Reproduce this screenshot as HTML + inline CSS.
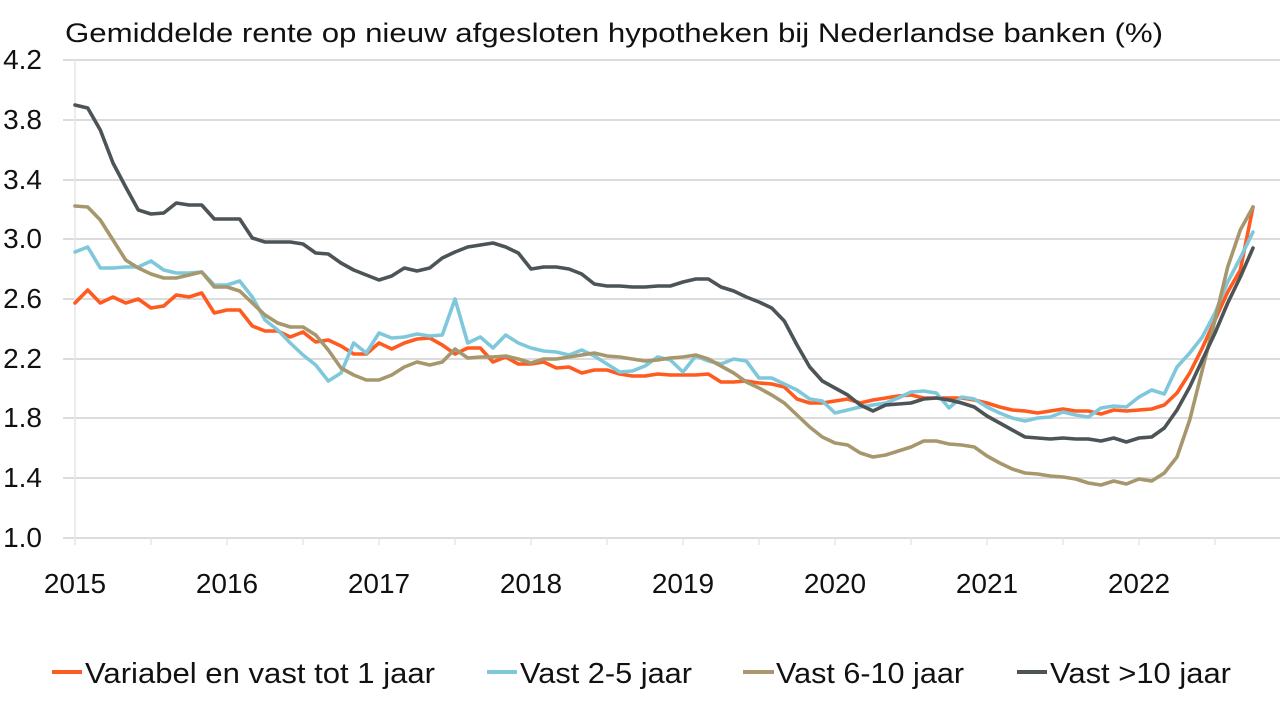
<!DOCTYPE html>
<html>
<head>
<meta charset="utf-8">
<style>
  html,body{margin:0;padding:0;background:#fff;}
  svg{display:block;}
  text{font-family:"Liberation Sans","DejaVu Sans",sans-serif;fill:#111;}
</style>
</head>
<body>
<svg width="1280" height="704" viewBox="0 0 1280 704" xmlns="http://www.w3.org/2000/svg">
  <rect x="0" y="0" width="1280" height="704" fill="#fff"/>
  <!-- Title -->
  <text x="65" y="42" font-size="27" textLength="1098" lengthAdjust="spacingAndGlyphs">Gemiddelde rente op nieuw afgesloten hypotheken bij Nederlandse banken (%)</text>

  <!-- gridlines -->
  <g stroke="#dcdcdc" stroke-width="2">
    <line x1="63" y1="60" x2="1280" y2="60"/>
    <line x1="63" y1="120" x2="1280" y2="120"/>
    <line x1="63" y1="180" x2="1280" y2="180"/>
    <line x1="63" y1="239" x2="1280" y2="239"/>
    <line x1="63" y1="299" x2="1280" y2="299"/>
    <line x1="63" y1="359" x2="1280" y2="359"/>
    <line x1="63" y1="418" x2="1280" y2="418"/>
    <line x1="63" y1="478" x2="1280" y2="478"/>
    <line x1="63" y1="538" x2="1280" y2="538"/>
  </g>
  <g stroke="#e6e6e6" stroke-width="1.5">
    <line x1="75" y1="60" x2="75" y2="545"/>
    <line x1="151" y1="538" x2="151" y2="545"/>
    <line x1="227" y1="538" x2="227" y2="545"/>
    <line x1="303" y1="538" x2="303" y2="545"/>
    <line x1="379" y1="538" x2="379" y2="545"/>
    <line x1="455" y1="538" x2="455" y2="545"/>
    <line x1="531" y1="538" x2="531" y2="545"/>
    <line x1="607" y1="538" x2="607" y2="545"/>
    <line x1="683" y1="538" x2="683" y2="545"/>
    <line x1="759" y1="538" x2="759" y2="545"/>
    <line x1="835" y1="538" x2="835" y2="545"/>
    <line x1="911" y1="538" x2="911" y2="545"/>
    <line x1="987" y1="538" x2="987" y2="545"/>
    <line x1="1063" y1="538" x2="1063" y2="545"/>
    <line x1="1139" y1="538" x2="1139" y2="545"/>
    <line x1="1215" y1="538" x2="1215" y2="545"/>
  </g>

  <!-- y labels -->
  <g font-size="28" text-anchor="end">
    <text x="42" y="69">4.2</text>
    <text x="42" y="129">3.8</text>
    <text x="42" y="189">3.4</text>
    <text x="42" y="248">3.0</text>
    <text x="42" y="308">2.6</text>
    <text x="42" y="368">2.2</text>
    <text x="42" y="427">1.8</text>
    <text x="42" y="487">1.4</text>
    <text x="42" y="547">1.0</text>
  </g>

  <!-- x labels -->
  <g font-size="28" text-anchor="middle">
    <text x="75" y="593">2015</text>
    <text x="227" y="593">2016</text>
    <text x="379" y="593">2017</text>
    <text x="531" y="593">2018</text>
    <text x="683" y="593">2019</text>
    <text x="835" y="593">2020</text>
    <text x="987" y="593">2021</text>
    <text x="1139" y="593">2022</text>
  </g>

  <!-- series -->
  <g fill="none" stroke-width="3.6" stroke-linejoin="round" stroke-linecap="round">
    <polyline stroke="#FF5A1F" points="75,303 87.7,290 100.3,303 113,297 125.7,303 138.3,299 151,308 163.7,306 176.3,295 189,297 201.7,293 214.3,313 227,310 239.7,310 252.3,326 265,331 277.7,331 290.3,337 303,332 315.7,342 328.3,340 341,346 353.7,354 366.3,354 379,343 391.7,349 404.3,343 417,339 429.7,338 442.3,345 455,354 467.7,348 480.3,348 493,362 505.7,357 518.3,364 531,364 543.7,362 556.3,368 569,367 581.7,373 594.3,370 607,370 619.7,374 632.3,376 645,376 657.7,374 670.3,375 683,375 695.7,375 708.3,374 721,382 733.7,382 746.3,381 759,383 771.7,384 784.3,387 797,399 809.7,403 822.3,403 835,401 847.7,399 860.3,403 873,400 885.7,398 898.3,396 911,395 923.7,398 936.3,398 949,398 961.7,398 974.3,400 987,403 999.7,407 1012.3,410 1025,411 1037.7,413 1050.3,411 1063,409 1075.7,411 1088.3,411 1101,414 1113.7,410 1126.3,411 1139,410 1151.7,409 1164.3,405 1177,393 1189.7,373 1202.3,348 1215,320 1227.7,292 1240.3,270 1253,207"/>
    <polyline stroke="#7FC8DC" points="75,252 87.7,247 100.3,268 113,268 125.7,267 138.3,267 151,261 163.7,270 176.3,273 189,273 201.7,272 214.3,285 227,285 239.7,281 252.3,297 265,320 277.7,330 290.3,343 303,355 315.7,365 328.3,381 341,373 353.7,343 366.3,353 379,333 391.7,338 404.3,337 417,334 429.7,336 442.3,335 455,299 467.7,343 480.3,337 493,348 505.7,335 518.3,343 531,348 543.7,351 556.3,352 569,355 581.7,350 594.3,356 607,364 619.7,372 632.3,371 645,366 657.7,357 670.3,360 683,372 695.7,356 708.3,361 721,364 733.7,359 746.3,361 759,378 771.7,378 784.3,384 797,390 809.7,399 822.3,401 835,413 847.7,410 860.3,407 873,405 885.7,403 898.3,398 911,392 923.7,391 936.3,393 949,408 961.7,397 974.3,399 987,407 999.7,413 1012.3,418 1025,421 1037.7,418 1050.3,417 1063,412 1075.7,415 1088.3,417 1101,408 1113.7,406 1126.3,407 1139,397 1151.7,390 1164.3,394 1177,367 1189.7,353 1202.3,337 1215,313 1227.7,282 1240.3,258 1253,232"/>
    <polyline stroke="#A6976C" points="75,206 87.7,207 100.3,220 113,240 125.7,260 138.3,268 151,274 163.7,278 176.3,278 189,275 201.7,272 214.3,287 227,287 239.7,291 252.3,303 265,315 277.7,323 290.3,327 303,327 315.7,335 328.3,350 341,368 353.7,375 366.3,380 379,380 391.7,375 404.3,367 417,362 429.7,365 442.3,362 455,349 467.7,358 480.3,357 493,357 505.7,356 518.3,359 531,363 543.7,359 556.3,359 569,357 581.7,355 594.3,353 607,356 619.7,357 632.3,359 645,361 657.7,360 670.3,358 683,357 695.7,355 708.3,359 721,366 733.7,373 746.3,382 759,388 771.7,395 784.3,403 797,415 809.7,427 822.3,437 835,443 847.7,445 860.3,453 873,457 885.7,455 898.3,451 911,447 923.7,441 936.3,441 949,444 961.7,445 974.3,447 987,456 999.7,463 1012.3,469 1025,473 1037.7,474 1050.3,476 1063,477 1075.7,479 1088.3,483 1101,485 1113.7,481 1126.3,484 1139,479 1151.7,481 1164.3,473 1177,457 1189.7,420 1202.3,370 1215,320 1227.7,267 1240.3,230 1253,207"/>
    <polyline stroke="#4C5457" points="75,105 87.7,108 100.3,130 113,163 125.7,187 138.3,210 151,214 163.7,213 176.3,203 189,205 201.7,205 214.3,219 227,219 239.7,219 252.3,238 265,242 277.7,242 290.3,242 303,244 315.7,253 328.3,254 341,263 353.7,270 366.3,275 379,280 391.7,276 404.3,268 417,271 429.7,268 442.3,258 455,252 467.7,247 480.3,245 493,243 505.7,247 518.3,253 531,269 543.7,267 556.3,267 569,269 581.7,274 594.3,284 607,286 619.7,286 632.3,287 645,287 657.7,286 670.3,286 683,282 695.7,279 708.3,279 721,287 733.7,291 746.3,297 759,302 771.7,308 784.3,321 797,345 809.7,367 822.3,381 835,388 847.7,395 860.3,405 873,411 885.7,405 898.3,404 911,403 923.7,399 936.3,398 949,400 961.7,403 974.3,407 987,416 999.7,423 1012.3,430 1025,437 1037.7,438 1050.3,439 1063,438 1075.7,439 1088.3,439 1101,441 1113.7,438 1126.3,442 1139,438 1151.7,437 1164.3,428 1177,410 1189.7,387 1202.3,360 1215,333 1227.7,303 1240.3,277 1253,248"/>
  </g>

  <!-- legend -->
  <g stroke-width="4" stroke-linecap="butt">
    <line x1="52" y1="672" x2="82" y2="672" stroke="#FF5A1F"/>
    <line x1="487" y1="672" x2="517" y2="672" stroke="#7FC8DC"/>
    <line x1="743" y1="672" x2="774" y2="672" stroke="#A6976C"/>
    <line x1="1017" y1="672" x2="1047" y2="672" stroke="#4C5457"/>
  </g>
  <g font-size="29">
    <text x="85" y="683" textLength="350" lengthAdjust="spacingAndGlyphs">Variabel en vast tot 1 jaar</text>
    <text x="520" y="683" textLength="172" lengthAdjust="spacingAndGlyphs">Vast 2-5 jaar</text>
    <text x="776" y="683" textLength="188" lengthAdjust="spacingAndGlyphs">Vast 6-10 jaar</text>
    <text x="1050" y="683" textLength="181" lengthAdjust="spacingAndGlyphs">Vast &gt;10 jaar</text>
  </g>
</svg>
</body>
</html>
